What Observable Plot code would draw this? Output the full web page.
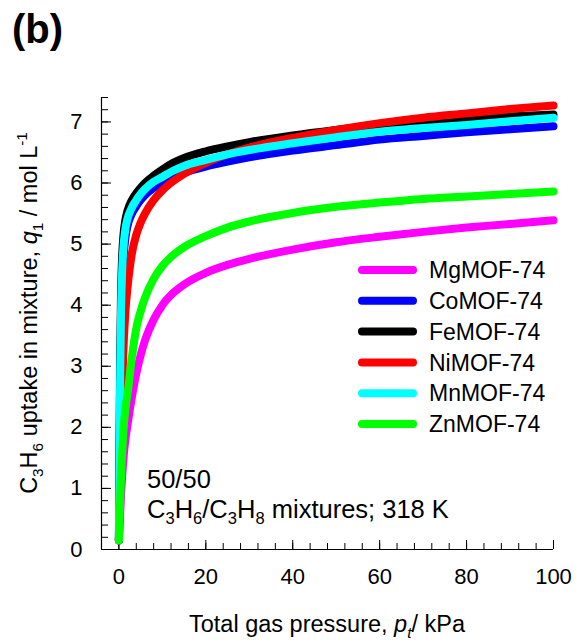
<!DOCTYPE html>
<html>
<head>
<meta charset="utf-8">
<script src="https://cdn.jsdelivr.net/npm/d3@7"></script>
<script src="https://cdn.jsdelivr.net/npm/@observablehq/plot@0.6"></script>
<style>
  html, body { margin: 0; padding: 0; background: #fff; }
  #chart { width: 578px; height: 640px; }
  #chart svg { display: block; }
</style>
</head>
<body>
<div id="chart"></div>
<script>
// Total gas pressure, kPa
const pressure = [0, 0.1, 0.2, 0.3, 0.5, 0.75, 1, 1.5, 2, 3, 4, 5, 6, 8, 10, 12.5, 15, 20, 25, 30, 40, 50, 60, 70, 80, 90, 100];

// C3H6 uptake in the 50/50 C3H6/C3H8 mixture at 318 K, mol/L
const mgMOF74 = [0.15, 0.3, 0.45, 0.6, 0.9, 1.2, 1.45, 1.8, 2.05, 2.5, 2.88, 3.18, 3.42, 3.76, 4.0, 4.2, 4.34, 4.53, 4.66, 4.76, 4.91, 5.03, 5.12, 5.2, 5.27, 5.33, 5.39];
const coMOF74 = [0.15, 0.9, 1.8, 2.6, 3.6, 4.3, 4.7, 5.1, 5.3, 5.5, 5.62, 5.72, 5.8, 5.92, 6.0, 6.1, 6.17, 6.27, 6.35, 6.42, 6.53, 6.62, 6.71, 6.77, 6.83, 6.88, 6.93];
const feMOF74 = [0.15, 1.2, 2.3, 3.2, 4.2, 4.8, 5.1, 5.4, 5.55, 5.72, 5.83, 5.92, 6.0, 6.12, 6.22, 6.33, 6.41, 6.52, 6.6, 6.67, 6.78, 6.87, 6.95, 7.0, 7.05, 7.09, 7.12];
const niMOF74 = [0.15, 0.45, 0.8, 1.15, 1.8, 2.6, 3.2, 3.9, 4.3, 4.85, 5.15, 5.35, 5.5, 5.72, 5.88, 6.03, 6.15, 6.33, 6.47, 6.58, 6.74, 6.87, 6.98, 7.07, 7.14, 7.21, 7.27];
const mnMOF74 = [0.15, 1.0, 2.0, 2.9, 3.9, 4.55, 4.9, 5.25, 5.42, 5.6, 5.72, 5.82, 5.9, 6.02, 6.1, 6.2, 6.28, 6.38, 6.47, 6.54, 6.65, 6.75, 6.84, 6.9, 6.95, 7.01, 7.07];
const znMOF74 = [0.15, 0.35, 0.6, 0.8, 1.2, 1.55, 1.9, 2.3, 2.55, 3.15, 3.62, 3.9, 4.12, 4.43, 4.64, 4.82, 4.95, 5.13, 5.27, 5.37, 5.51, 5.61, 5.68, 5.74, 5.78, 5.82, 5.86];

const seriesNames = ["MgMOF-74", "CoMOF-74", "FeMOF-74", "NiMOF-74", "MnMOF-74", "ZnMOF-74"];
const seriesValues = [mgMOF74, coMOF74, feMOF74, niMOF74, mnMOF74, znMOF74];
const seriesColors = ["#ff00ff", "#0000ff", "#000000", "#ff0000", "#00ffff", "#00ff00"];

const xTickLabels = [0, 20, 40, 60, 80, 100];
const yTickLabels = [0, 1, 2, 3, 4, 5, 6, 7];

const font = "'Liberation Sans', Arial, sans-serif";
const W = 578, H = 640;
const margin = {top: 97, right: 25, bottom: 91, left: 101};
const frameW = W - margin.left - margin.right;
const frameH = H - margin.top - margin.bottom;

// one table per isotherm
const tables = seriesValues.map((vals, i) =>
  pressure.map((p, j) => ({p, q: vals[j], series: seriesNames[i]}))
);

const xMinor = d3.range(-4, 100.001, 4);
const yMinor = d3.range(0, 7.4001, 0.2).map(v => +v.toFixed(1));

const chart = Plot.plot({
  width: W,
  height: H,
  marginTop: margin.top,
  marginRight: margin.right,
  marginBottom: margin.bottom,
  marginLeft: margin.left,
  style: {fontFamily: font, background: "#fff", color: "#000"},
  x: {domain: [-4, 100], label: null},
  y: {domain: [0, 7.4], label: null},
  color: {domain: seriesNames, range: seriesColors},
  marks: [
    // inward ticks
    Plot.tickX(xMinor, {x: d => d, stroke: "#000", strokeWidth: 1, insetTop: frameH - 6}),
    Plot.tickX(xTickLabels, {x: d => d, stroke: "#000", strokeWidth: 1, insetTop: frameH - 9}),
    Plot.tickY(yMinor, {y: d => d, stroke: "#000", strokeWidth: 1, insetRight: frameW - 7}),
    Plot.tickY(yTickLabels, {y: d => d, stroke: "#000", strokeWidth: 1, insetRight: frameW - 10}),
    // axis lines
    Plot.ruleX([-4], {stroke: "#000", strokeWidth: 1.2}),
    Plot.ruleY([0], {stroke: "#000", strokeWidth: 1.2}),
    Plot.axisX(xTickLabels, {tickSize: 0, tickPadding: 19, fontSize: 22, label: null, tickFormat: d => String(d)}),
    Plot.axisY(yTickLabels, {tickSize: 0, tickPadding: 19, fontSize: 22, label: null, tickFormat: d => String(d)}),
    // isotherms, drawn in legend order
    ...tables.map(t => Plot.line(t, {
      x: "p", y: "q", stroke: "series", strokeWidth: 8,
      curve: "monotone-x", strokeLinecap: "round", strokeLinejoin: "round"
    }))
  ]
});

document.getElementById("chart").appendChild(chart);

const svg = d3.select(chart);

// text with sub/superscripts and italics
function richText(g, parts, size) {
  let shift = 0;
  for (const [str, kind] of parts) {
    let target = 0, fs = size, style = "normal";
    if (kind === "sub" || kind === "isub") { target = size * 0.25; fs = size * 0.65; }
    if (kind === "sup") { target = -size * 0.42; fs = size * 0.65; }
    if (kind === "it" || kind === "isub") style = "italic";
    g.append("tspan")
      .attr("dy", target - shift)
      .attr("font-size", fs)
      .attr("font-style", style)
      .text(str);
    shift = target;
  }
}

const overlay = svg.append("g")
  .attr("font-family", font)
  .attr("fill", "#000")
  .attr("text-anchor", "start");

overlay.append("text")
  .attr("x", 12).attr("y", 43)
  .attr("font-size", 40).attr("font-weight", "bold")
  .text("(b)");

const yTitle = overlay.append("text")
  .attr("transform", "translate(37,313) rotate(-90)")
  .attr("text-anchor", "middle")
  .attr("font-size", 23.5);
richText(yTitle, [["C"], ["3", "sub"], ["H"], ["6", "sub"], [" uptake in mixture, "], ["q", "it"], ["1", "sub"], [" / mol L"], ["-1", "sup"]], 23.5);

const xTitle = overlay.append("text")
  .attr("x", 327).attr("y", 632)
  .attr("text-anchor", "middle")
  .attr("font-size", 23.5);
richText(xTitle, [["Total gas pressure, "], ["p", "it"], ["t", "isub"], ["/ kPa"]], 23.5);

overlay.append("text")
  .attr("x", 147).attr("y", 488)
  .attr("font-size", 25.5)
  .text("50/50");
const note = overlay.append("text")
  .attr("x", 147).attr("y", 518)
  .attr("font-size", 25.5);
richText(note, [["C"], ["3", "sub"], ["H"], ["6", "sub"], ["/C"], ["3", "sub"], ["H"], ["8", "sub"], [" mixtures; 318 K"]], 25.5);

// legend
const legend = overlay.append("g");
seriesNames.forEach((name, i) => {
  const y = 270 + i * 30.8;
  legend.append("line")
    .attr("x1", 362).attr("x2", 413).attr("y1", y).attr("y2", y)
    .attr("stroke", seriesColors[i]).attr("stroke-width", 8).attr("stroke-linecap", "round");
  legend.append("text")
    .attr("x", 429).attr("y", y).attr("dy", "0.36em")
    .attr("font-size", 23)
    .text(name);
});
</script>
</body>
</html>
